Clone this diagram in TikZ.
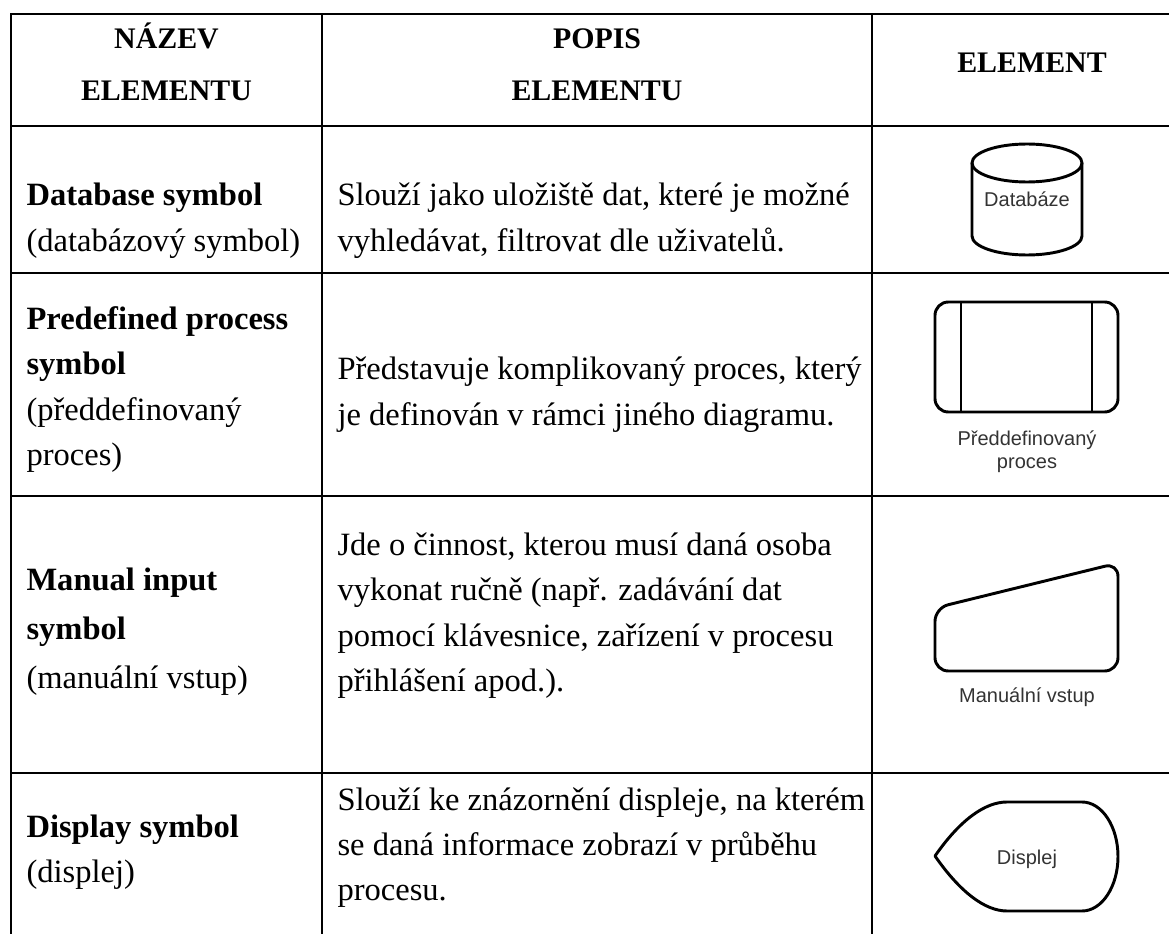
\documentclass[tikz,border=0pt]{standalone}
\usepackage{fontspec}
\setmainfont{Liberation Serif}
\newfontfamily\shapefont{Liberation Sans}
\usepackage{tikz}

\begin{document}
\begin{tikzpicture}[x=0.375pt,y=-0.375pt,
  rule lines/.style={line width=0.8pt,draw=black,line cap=rect},
  symbol line/.style={line width=1.1pt,draw=black,line join=round},
  head/.style={font=\fontsize{11.2}{14}\selectfont\bfseries,anchor=base,inner sep=0pt},
  cell/.style={font=\fontsize{12.2}{14}\selectfont,anchor=base west,inner sep=0pt},
  symbol text/.style={font=\shapefont\fontsize{7.5}{9}\selectfont,text=shapegray,anchor=base,inner sep=0pt}]
\colorlet{shapegray}{black!80}
\useasboundingbox (0,0) rectangle (1169,934);
\clip (0,0) rectangle (1169,934);
% table rules
\foreach \y in {14,126,273,496,773}
\draw[rule lines] (11,\y) -- (1195,\y);
\foreach \x in {11,322,872}
\draw[rule lines] (\x,14) -- (\x,960);
% header
\node[head] (name1) at (166.5,49) {NÁZEV};
\node[head] (name2) at (166.5,101) {ELEMENTU};
\node[head] (desc1) at (597,49) {POPIS};
\node[head] (desc2) at (597,101) {ELEMENTU};
\node[head] (elem) at (1032,73) {ELEMENT};
% first column
\foreach \y/\t [count=\i] in {206/{\textbf{Database symbol}},252/{(databázový symbol)},
  330/{\textbf{Predefined process}},375/{\textbf{symbol}},420/{(předdefinovaný},466/{proces)},
  590/{\textbf{Manual input}},639/{\textbf{symbol}},688/{(manuální vstup)},
  837/{\textbf{Display symbol}},882/{(displej)}}
\node[cell] (name-\i) at (26,\y) {\t};
% second column
\foreach \y/\t [count=\i] in {206/{Slouží jako uložiště dat, které je možné},252/{vyhledávat, filtrovat dle uživatelů.},
  380/{Představuje komplikovaný proces, který},425/{je definován v rámci jiného diagramu.},
  555/{Jde o činnost, kterou musí daná osoba},600/{vykonat ručně (např. zadávání dat},
  646/{pomocí klávesnice, zařízení v procesu},691/{přihlášení apod.).},
  810/{Slouží ke znázornění displeje, na kterém},855/{se daná informace zobrazí v průběhu},900/{procesu.}}
\node[cell] (desc-\i) at (337,\y) {\t};
% database
\draw[symbol line] (1027,163) ellipse [x radius=55,y radius=19];
\draw[symbol line] (972,163) -- (972,236) arc[start angle=180,end angle=0,x radius=55,y radius=19] -- (1082,163);
\node[symbol text] (db) at (1027,207) {Databáze};
% predefined process
\draw[symbol line,rounded corners=5] (935,302) rectangle (1118,412);
\draw[symbol line] (961,302) -- (961,412) (1092,302) -- (1092,412);
\node[symbol text] (pp1) at (1027,445) {Předdefinovaný};
\node[symbol text] (pp2) at (1027,468) {proces};
% manual input
\draw[symbol line,rounded corners=5] (935,608) -- (1118,563) -- (1118,671) -- (935,671) -- cycle;
\node[symbol text] (mi) at (1027,702) {Manuální vstup};
% display
\draw[symbol line] (935,856) .. controls (960,820) and (985,802) .. (1007,802) -- (1082,802)
  arc[start angle=-90,end angle=90,x radius=36,y radius=54.5] -- (1007,911)
  .. controls (985,911) and (960,892) .. cycle;
\node[symbol text] (disp) at (1027,864) {Displej};
\end{tikzpicture}
\end{document}
